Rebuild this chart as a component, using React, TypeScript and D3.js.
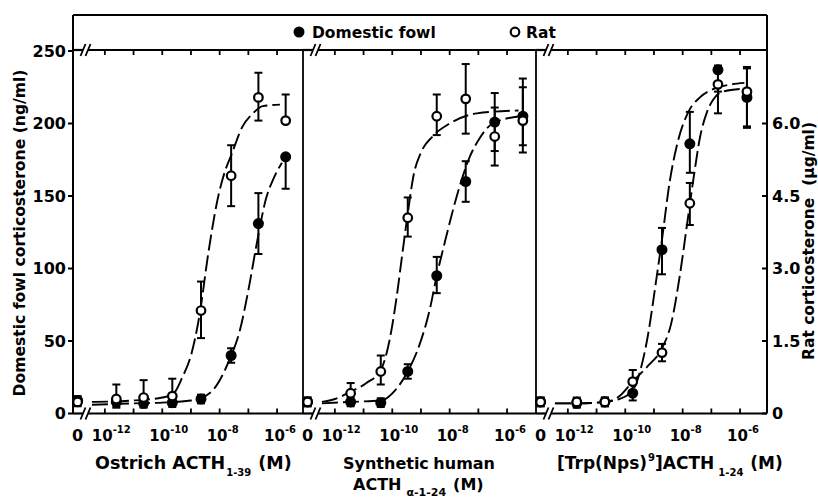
import React from "react";
import * as d3 from "d3";

const FONT = "'DejaVu Sans', sans-serif";

// log10 of the dose (M); ZERO stands for the control tube with no ACTH
const ZERO = -12.95;

// Ostrich ACTH 1-39
const ostrichDose = [ZERO, -11.6, -10.65, -9.65, -8.65, -7.6, -6.65, -5.7];
const ostrichFowl = [9, 8, 7, 7.5, 10, 40, 131, 177];
const ostrichFowlErr = [[3, 3], [3, 3], [3, 3], [3, 3], [3, 3], [5, 5], [21, 21], [22, 0]];
const ostrichRat = [0.24, 0.3, 0.33, 0.36, 2.13, 4.92, 6.54, 6.06];
const ostrichRatErr = [[0.09, 0.09], [0.18, 0.3], [0.18, 0.36], [0.18, 0.36], [0.57, 0.6], [0.63, 0.63], [0.48, 0.51], [0, 0.54]];
const ostrichFowlFit = [[-12.45, 6], [-11, 7], [-10, 7.5], [-9, 9], [-8.5, 12], [-8.24, 16], [-7.64, 38], [-7.3, 57], [-7.0, 85], [-6.7, 118], [-6.4, 147], [-6.1, 163], [-5.83, 173]];
const ostrichRatFit = [[-12.45, 0.24], [-11, 0.27], [-10, 0.33], [-9.6, 0.42], [-9.3, 0.75], [-9.0, 1.2], [-8.7, 2.04], [-8.4, 3.3], [-8.1, 4.35], [-7.8, 5.04], [-7.6, 5.34], [-7.2, 5.94], [-6.84, 6.21], [-6.5, 6.36], [-5.9, 6.39]];

// Synthetic human ACTH alpha 1-24
const humanDose = [ZERO, -11.45, -10.4, -9.46, -8.45, -7.44, -6.43, -5.45];
const humanFowl = [8, 8, 7.5, 29, 95, 160, 201, 205];
const humanFowlErr = [[3, 3], [3, 3], [3, 3], [5, 5], [12, 13], [14, 14], [20, 20], [20, 20]];
const humanRat = [0.24, 0.42, 0.87, 4.05, 6.15, 6.51, 5.73, 6.06];
const humanRatErr = [[0.09, 0.09], [0.18, 0.21], [0.27, 0.33], [0.39, 0.42], [0.39, 0.45], [0.72, 0.72], [0.6, 0.6], [0.66, 0.87]];
const humanFowlFit = [[-12.45, 7], [-11.45, 8], [-10.4, 9], [-9.9, 16], [-9.46, 29], [-9.04, 48], [-8.69, 72], [-8.45, 95], [-8.17, 118], [-7.75, 150], [-7.3, 177], [-6.95, 190], [-6.5, 200], [-5.55, 205]];
const humanRatFit = [[-12.45, 0.24], [-12.0, 0.3], [-11.45, 0.45], [-10.9, 0.63], [-10.4, 0.9], [-10.1, 1.5], [-9.85, 2.4], [-9.65, 3.3], [-9.46, 4.14], [-9.25, 4.95], [-9.0, 5.4], [-8.6, 5.73], [-8.0, 6.0], [-7.05, 6.21], [-5.6, 6.27]];

// [Trp(Nps)9]ACTH 1-24
const trpDose = [ZERO, -11.69, -10.71, -9.74, -8.72, -7.75, -6.77, -5.76];
const trpFowl = [8, 7, 8, 14, 113, 186, 237, 218];
const trpFowlErr = [[3, 3], [3, 3], [3, 3], [5, 6], [17, 15], [20, 22], [15, 3], [20, 20]];
const trpRat = [0.24, 0.24, 0.24, 0.66, 1.26, 4.35, 6.81, 6.66];
const trpRatErr = [[0.09, 0.09], [0.09, 0.09], [0.09, 0.09], [0.24, 0.24], [0.18, 0.18], [0.45, 0.42], [0.6, 0.24], [0.75, 0.51]];
const trpFowlFit = [[-12.45, 7], [-11.69, 7], [-10.71, 8], [-10.2, 10], [-9.74, 16], [-9.5, 28], [-9.2, 55], [-8.95, 88], [-8.72, 120], [-8.45, 160], [-8.2, 185], [-7.8, 208], [-7.4, 218], [-6.9, 224], [-6.3, 227], [-5.85, 228]];
const trpRatFit = [[-12.45, 0.21], [-11.69, 0.21], [-10.71, 0.24], [-10.2, 0.36], [-9.74, 0.66], [-9.2, 0.99], [-8.72, 1.35], [-8.4, 1.86], [-8.1, 2.85], [-7.85, 3.9], [-7.6, 4.95], [-7.4, 5.7], [-7.15, 6.24], [-6.95, 6.48], [-6.6, 6.66], [-5.85, 6.72]];

const fowlTicks = [0, 50, 100, 150, 200, 250];
const ratTicks = [0, 1.5, 3.0, 4.5, 6.0];
const decadeTicks = [-12, -11, -10, -9, -8, -7, -6];
const decadeLabels = [-12, -10, -8, -6];

export default function App() {
  const W = 818;
  const H = 498;
  const bandTop = 15;
  const plotTop = 50;
  const bottom = 413.5;
  const edges = [73, 303, 536, 767];
  const DOSE_MIN = -13.11;
  const DECADE = 28.7;
  const panelW = 230;

  const y = d3.scaleLinear().domain([0, 250]).range([bottom, 51]);
  const yR = d3.scaleLinear().domain([0, 7.5]).range([bottom, 51]);

  const panels = [
    { dose: ostrichDose, fowl: ostrichFowl, fowlErr: ostrichFowlErr, rat: ostrichRat, ratErr: ostrichRatErr, fowlFit: ostrichFowlFit, ratFit: ostrichRatFit },
    { dose: humanDose, fowl: humanFowl, fowlErr: humanFowlErr, rat: humanRat, ratErr: humanRatErr, fowlFit: humanFowlFit, ratFit: humanRatFit },
    { dose: trpDose, fowl: trpFowl, fowlErr: trpFowlErr, rat: trpRat, ratErr: trpRatErr, fowlFit: trpFowlFit, ratFit: trpRatFit },
  ];

  const txt = { fontFamily: FONT, fontWeight: "bold" as const, fill: "#000" };

  return (
    <svg width={W} height={H} style={{ position: "absolute", left: 0, top: 0, background: "#fff" }}>
      {/* frame */}
      <line x1={edges[0]} x2={edges[3]} y1={bandTop} y2={bandTop} stroke="#000" strokeWidth={2} />
      <line x1={edges[0]} x2={edges[0]} y1={bandTop} y2={bottom} stroke="#000" strokeWidth={2} />
      <line x1={edges[3]} x2={edges[3]} y1={bandTop} y2={bottom} stroke="#000" strokeWidth={2} />
      <line x1={edges[1]} x2={edges[1]} y1={plotTop} y2={bottom} stroke="#000" strokeWidth={1.8} />
      <line x1={edges[2]} x2={edges[2]} y1={plotTop} y2={bottom} stroke="#000" strokeWidth={1.8} />

      {/* legend */}
      <circle cx={299} cy={32} r={5.5} fill="#000" />
      <text x={312} y={38} fontSize={15.5} {...txt}>Domestic fowl</text>
      <circle cx={515} cy={32} r={4.3} fill="#fff" stroke="#000" strokeWidth={2.2} />
      <text x={526} y={38} fontSize={15.5} {...txt}>Rat</text>

      {/* left axis */}
      {fowlTicks.map((t) => (
        <g key={"fy" + t}>
          <line x1={edges[0] - 5} x2={edges[0]} y1={y(t)} y2={y(t)} stroke="#000" strokeWidth={2} />
          <text x={66} y={y(t)} dy="0.36em" textAnchor="end" fontSize={16} {...txt}>{t}</text>
        </g>
      ))}
      <text transform={`translate(19,233) rotate(-90)`} textAnchor="middle" dy="0.36em" fontSize={15.6} {...txt}>
        Domestic fowl corticosterone (ng/ml)
      </text>

      {/* right axis */}
      {ratTicks.map((t) => (
        <g key={"ry" + t}>
          <line x1={edges[3] - 5} x2={edges[3]} y1={yR(t)} y2={yR(t)} stroke="#000" strokeWidth={2} />
          <text x={772} y={yR(t)} dy="0.36em" fontSize={16} {...txt}>{t === 0 ? "0" : t.toFixed(1)}</text>
        </g>
      ))}
      <text transform={`translate(808,241) rotate(-90)`} textAnchor="middle" dy="0.36em" fontSize={15.5} {...txt}>
        Rat corticosterone<tspan dx={12}>(µg/ml)</tspan>
      </text>

      {panels.map((p, i) => {
        const left = edges[i];
        const right = edges[i + 1];
        const x = d3.scaleLinear().domain([DOSE_MIN, DOSE_MIN + panelW / DECADE]).range([left, left + panelW]);
        const fowlLine = d3.line<number[]>().x((d) => x(d[0])).y((d) => y(d[1])).curve(d3.curveMonotoneX);
        const ratLine = d3.line<number[]>().x((d) => x(d[0])).y((d) => yR(d[1])).curve(d3.curveMonotoneX);
        const b1 = left + 10;
        const b2 = left + 15;
        const slash = (bx: number, by: number) => (
          <line x1={bx - 2.5} x2={bx + 2.5} y1={by + 6} y2={by - 6} stroke="#000" strokeWidth={1.8} />
        );
        return (
          <g key={"p" + i}>
            {/* bottom and top axis lines with breaks */}
            <line x1={left} x2={b1} y1={bottom} y2={bottom} stroke="#000" strokeWidth={2.2} />
            <line x1={b2} x2={right} y1={bottom} y2={bottom} stroke="#000" strokeWidth={2.2} />
            <line x1={left} x2={b1} y1={plotTop} y2={plotTop} stroke="#000" strokeWidth={2.2} />
            <line x1={b2} x2={right} y1={plotTop} y2={plotTop} stroke="#000" strokeWidth={2.2} />
            {slash(b1, bottom)}
            {slash(b2, bottom)}
            {slash(b1, plotTop)}
            {slash(b2, plotTop)}
            {decadeTicks.map((t) => (
              <g key={"t" + t}>
                <line x1={x(t)} x2={x(t)} y1={bottom} y2={bottom - 5} stroke="#000" strokeWidth={1.8} />
                <line x1={x(t)} x2={x(t)} y1={plotTop} y2={plotTop + 5} stroke="#000" strokeWidth={1.8} />
              </g>
            ))}
            <text x={x(ZERO)} y={441} textAnchor="middle" fontSize={16} {...txt}>0</text>
            {decadeLabels.map((t) => (
              <text key={"l" + t} x={x(t) - 13} y={441} fontSize={15} {...txt}>
                10<tspan dy={-8} fontSize={10}>{String(t)}</tspan>
              </text>
            ))}

            {/* fitted curves */}
            <path d={fowlLine(p.fowlFit) || ""} fill="none" stroke="#000" strokeWidth={1.9} strokeDasharray="16,5" />
            <path d={ratLine(p.ratFit) || ""} fill="none" stroke="#000" strokeWidth={1.9} strokeDasharray="16,5" />

            {/* error bars */}
            {p.dose.map((d, j) => {
              const cx = x(d);
              const fy0 = y(p.fowl[j] - p.fowlErr[j][0]);
              const fy1 = y(p.fowl[j] + p.fowlErr[j][1]);
              const ry0 = yR(p.rat[j] - p.ratErr[j][0]);
              const ry1 = yR(p.rat[j] + p.ratErr[j][1]);
              return (
                <g key={"e" + j} stroke="#000" strokeWidth={2}>
                  <line x1={cx} x2={cx} y1={fy0} y2={fy1} />
                  {p.fowlErr[j][0] > 0 && <line x1={cx - 4} x2={cx + 4} y1={fy0} y2={fy0} />}
                  {p.fowlErr[j][1] > 0 && <line x1={cx - 4} x2={cx + 4} y1={fy1} y2={fy1} />}
                  <line x1={cx} x2={cx} y1={ry0} y2={ry1} />
                  {p.ratErr[j][0] > 0 && <line x1={cx - 4} x2={cx + 4} y1={ry0} y2={ry0} />}
                  {p.ratErr[j][1] > 0 && <line x1={cx - 4} x2={cx + 4} y1={ry1} y2={ry1} />}
                </g>
              );
            })}

            {/* points */}
            {p.dose.map((d, j) => (
              <circle key={"f" + j} cx={x(d)} cy={y(p.fowl[j])} r={5.5} fill="#000" />
            ))}
            {p.dose.map((d, j) => (
              <circle key={"r" + j} cx={x(d)} cy={yR(p.rat[j])} r={4.3} fill="#fff" stroke="#000" strokeWidth={2.2} />
            ))}
          </g>
        );
      })}

      {/* x-axis titles */}
      <text x={95} y={469} fontSize={17.5} {...txt}>
        Ostrich ACTH
        <tspan dx={1} dy={7} fontSize={10}>1-39</tspan>
        <tspan dx={7} dy={-7}>(M)</tspan>
      </text>
      <text x={343} y={469} fontSize={16} {...txt}>Synthetic</text>
      <text x={495} y={469} textAnchor="end" fontSize={16} {...txt}>human</text>
      <text x={353} y={490} fontSize={16} {...txt}>
        ACTH
        <tspan dx={5} dy={6} fontSize={11}>α-1-24</tspan>
        <tspan dx={7} dy={-6}>(M)</tspan>
      </text>
      <text x={557} y={469} fontSize={17} {...txt}>
        [Trp(Nps)
        <tspan dx={1} dy={-8} fontSize={10}>9</tspan>
        <tspan dy={8}>]ACTH</tspan>
        <tspan dx={4} dy={7} fontSize={10}>1-24</tspan>
        <tspan dx={7} dy={-7}>(M)</tspan>
      </text>
    </svg>
  );
}
